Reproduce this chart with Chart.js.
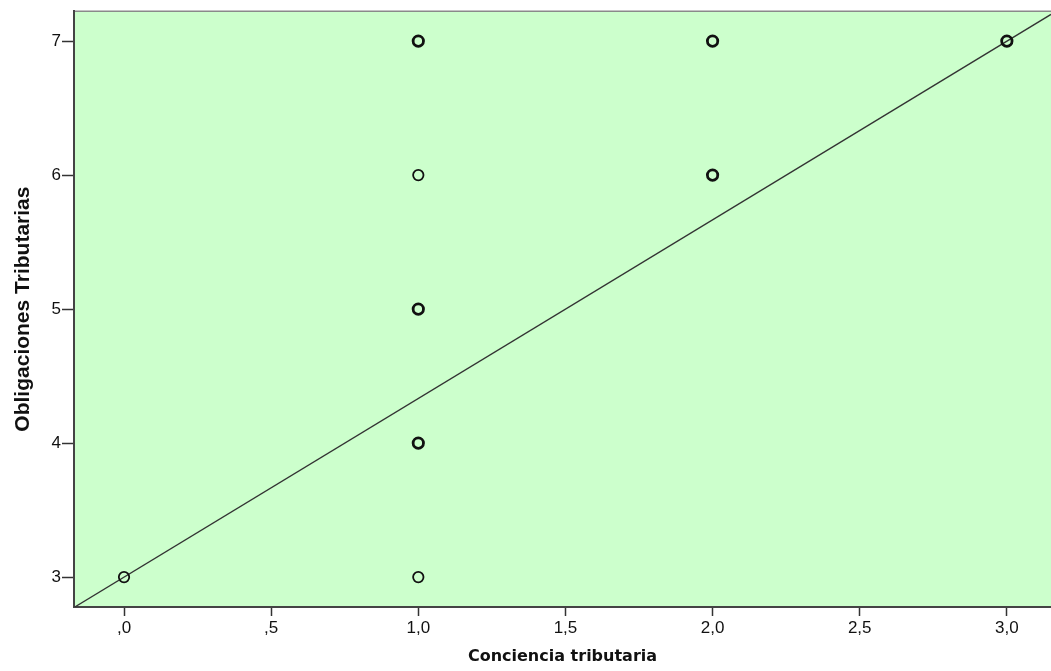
<!DOCTYPE html>
<html>
<head>
<meta charset="utf-8">
<script src="https://cdn.jsdelivr.net/npm/chart.js@4/dist/chart.umd.min.js"></script>
<style>
  html, body { margin: 0; padding: 0; background: #fff; }
  #wrap { width: 1051px; height: 671px; }
</style>
</head>
<body>
<div id="wrap"><canvas id="chart"></canvas></div>
<script>
/* DATA */
const concienciaX = [0, 1, 1, 1, 1, 1, 2, 2, 3];
const obligacionesY = [3, 3, 4, 5, 6, 7, 6, 7, 7];
// repeated cases look bolder in the picture
const pointWeight = [1.8, 1.8, 2.8, 2.8, 1.8, 2.8, 2.8, 2.8, 2.8];

const xTicks = [0, 0.5, 1, 1.5, 2, 2.5, 3];
const yTicks = [3, 4, 5, 6, 7];

const fitIntercept = 3.0;
const fitSlope = 1.333;

const xMin = -0.17, xMax = 3.15;
const yMin = 2.777, yMax = 7.223;

/* helpers */
function fmtX(v) {
  let s = v.toFixed(1).replace(".", ",");
  if (s.startsWith("0,")) s = s.slice(1);
  return s;
}

const points = concienciaX.map((x, i) => ({ x: x, y: obligacionesY[i] }));
const fitLine = [xMin, xMax].map(x => ({ x: x, y: fitIntercept + fitSlope * x }));

/* green plot background + top border */
const plotBg = {
  id: "plotBg",
  beforeDraw(chart) {
    const a = chart.chartArea;
    const ctx = chart.ctx;
    ctx.save();
    ctx.fillStyle = "#ccffcc";
    ctx.fillRect(a.left, a.top, a.right - a.left, a.bottom - a.top);
    ctx.strokeStyle = "#8a8a8a";
    ctx.lineWidth = 1.5;
    ctx.beginPath();
    ctx.moveTo(a.left, a.top);
    ctx.lineTo(a.right, a.top);
    ctx.stroke();
    ctx.restore();
  }
};

Chart.defaults.font.family = "'Liberation Sans', Arial, sans-serif";
Chart.defaults.color = "#111";

new Chart(document.getElementById("chart"), {
  type: "scatter",
  data: {
    datasets: [
      {
        type: "line",
        data: fitLine,
        borderColor: "#333",
        borderWidth: 1.3,
        pointRadius: 0,
        fill: false,
        order: 2
      },
      {
        data: points,
        pointRadius: 5.2,
        pointBorderWidth: pointWeight,
        pointBorderColor: "#111",
        pointBackgroundColor: "rgba(0,0,0,0)",
        order: 1
      }
    ]
  },
  options: {
    responsive: true,
    maintainAspectRatio: false,
    animation: false,
    layout: { autoPadding: false, padding: { top: 8, right: 0, left: 0, bottom: 0 } },
    plugins: { legend: { display: false }, tooltip: { enabled: false } },
    scales: {
      x: {
        type: "linear",
        min: xMin,
        max: xMax,
        afterBuildTicks: axis => { axis.ticks = xTicks.map(v => ({ value: v })); },
        afterFit: axis => { axis.height = 64; },
        ticks: { callback: v => fmtX(v), font: { size: 17 }, padding: 2, maxRotation: 0 },
        grid: { drawOnChartArea: false, drawTicks: true, tickLength: 9, color: "#333", tickWidth: 1.5 },
        border: { display: true, color: "#444", width: 2 },
        title: {
          display: true,
          text: "Conciencia tributaria",
          font: { family: "'DejaVu Sans', sans-serif", size: 16, weight: "bold" },
          color: "#111",
          padding: { top: 0, bottom: 5 }
        }
      },
      y: {
        type: "linear",
        min: yMin,
        max: yMax,
        afterBuildTicks: axis => { axis.ticks = yTicks.map(v => ({ value: v })); },
        afterFit: axis => { axis.width = 74; },
        ticks: { font: { size: 17 }, padding: 1 },
        grid: { drawOnChartArea: false, drawTicks: true, tickLength: 12, color: "#333", tickWidth: 1.5 },
        border: { display: true, color: "#444", width: 2 },
        title: {
          display: true,
          text: "Obligaciones Tributarias",
          font: { size: 21, weight: "bold" },
          color: "#111",
          padding: { top: 11, bottom: 0 }
        }
      }
    }
  },
  plugins: [plotBg]
});
</script>
</body>
</html>
